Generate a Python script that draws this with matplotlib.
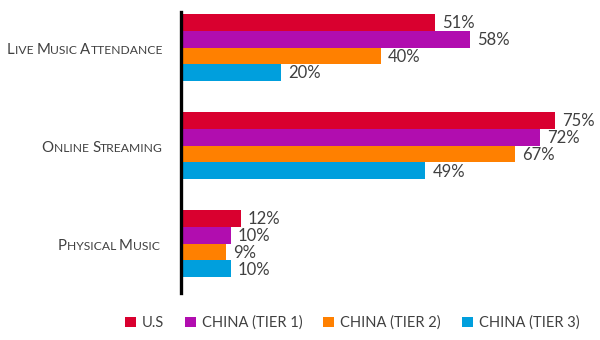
import matplotlib
matplotlib.use("Agg")
import matplotlib.pyplot as plt
from matplotlib.patches import Patch

categories = ["Live Music Attendance", "Online Streaming", "Physical Music"]
series_names = ["U.S", "CHINA (TIER 1)", "CHINA (TIER 2)", "CHINA (TIER 3)"]
us = [51, 75, 12]
tier1 = [58, 72, 10]
tier2 = [40, 67, 9]
tier3 = [20, 49, 10]
series_values = [us, tier1, tier2, tier3]
colors = ["#D9002F", "#B10DAF", "#FF8000", "#009FDD"]
label_color = "#404040"

plt.rcParams['font.family'] = ['Lato', 'DejaVu Sans']

W, H = 600, 340
fig = plt.figure(figsize=(6, 3.4), dpi=100)
ax_left, ax_right, ax_top, ax_bot = 181, 581, 12, 293
ax = fig.add_axes([ax_left / W, 1 - ax_bot / H, (ax_right - ax_left) / W, (ax_bot - ax_top) / H])

pitch = 5.85
for g in range(len(categories)):
    for i, vals in enumerate(series_values):
        y = g * pitch + i
        ax.barh(y, vals[g], height=1.0, color=colors[i], edgecolor='none')
        ax.text(vals[g] + 1.4, y + 0.05, f"{vals[g]}%", va='center', ha='left',
                fontsize=12, color=label_color)

ax.set_xlim(0, 80.2)
ax.set_ylim(2 * pitch + 3 + 0.5 + 0.95, -0.62)
for s in ['top', 'right', 'bottom']:
    ax.spines[s].set_visible(False)
ax.spines['left'].set_linewidth(2.4)
ax.spines['left'].set_color('black')
ax.set_xticks([])
ax.set_yticks([])

# small-caps category labels
fig.canvas.draw()
renderer = fig.canvas.get_renderer()

def smallcaps(text, x_right_px, baseline_px, big=10.8, small=8.7):
    pieces = []
    words = text.split(" ")
    for wi, w in enumerate(words):
        pieces.append((w[0], big))
        rest = w[1:].upper()
        if wi < len(words) - 1:
            rest += " "
        if rest:
            pieces.append((rest, small))
    objs = []
    for s, fs in pieces:
        t = fig.text(0, 1 - baseline_px / H, s, fontsize=fs, color=label_color,
                     va='baseline', ha='left')
        objs.append(t)
    widths = [o.get_window_extent(renderer).width for o in objs]
    total = sum(widths)
    x = x_right_px - total
    for o, wdt in zip(objs, widths):
        o.set_x(x / W)
        x += wdt

smallcaps(categories[0], 163, 53.5)
smallcaps(categories[1], 163, 152)
smallcaps(categories[2], 160, 249.5)

handles = [Patch(facecolor=c, edgecolor='none') for c in colors]
fig.legend(handles, series_names, loc='center', bbox_to_anchor=(352 / W, 1 - 323 / H),
           ncol=4, frameon=False, fontsize=10.5, handlelength=0.75, handleheight=0.75,
           handletextpad=0.4, columnspacing=1.45, labelcolor=label_color)

fig.savefig("out.png", dpi=100)
